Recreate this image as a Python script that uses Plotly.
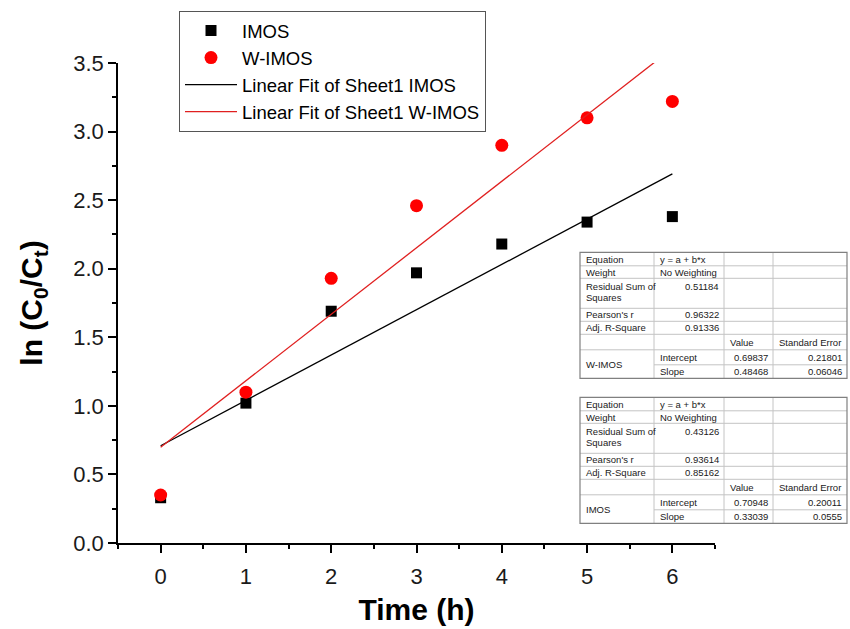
import plotly.graph_objects as go

# Reaction time (h) and kinetic data ln(C0/Ct)
time_h = [0, 1, 2, 3, 4, 5, 6]
imos = [0.33, 1.02, 1.69, 1.97, 2.18, 2.34, 2.38]
w_imos = [0.35, 1.10, 1.93, 2.46, 2.90, 3.10, 3.22]

# Linear fit statistics (y = a + b*x)
wimos_stats = ["0.51184", "0.96322", "0.91336"]
wimos_intercept = ["0.69837", "0.21801"]
wimos_slope = ["0.48468", "0.06046"]

imos_stats = ["0.43126", "0.93614", "0.85162"]
imos_intercept = ["0.70948", "0.20011"]
imos_slope = ["0.33039", "0.0555"]

y_ticks = [0.0, 0.5, 1.0, 1.5, 2.0, 2.5, 3.0, 3.5]

FONT = "Liberation Sans, Arial, sans-serif"
W, H = 850, 629
PL, PR, PT, PB = 118, 715, 63, 543


def fx(px):
    return (px - PL) / (PR - PL)


def fy(py):
    return (PB - py) / (PB - PT)


def fit_line(a, b):
    return [float(a) + float(b) * t for t in time_h]


fig = go.Figure()
fig.add_trace(go.Scatter(x=time_h, y=imos, mode="markers", name="IMOS",
                         marker=dict(symbol="square", size=11, color="black")))
fig.add_trace(go.Scatter(x=time_h, y=w_imos, mode="markers", name="W-IMOS",
                         marker=dict(symbol="circle", size=13, color="#ff0000")))
fig.add_trace(go.Scatter(x=time_h, y=fit_line(imos_intercept[0], imos_slope[0]),
                         mode="lines", name="Linear Fit of Sheet1 IMOS",
                         line=dict(color="black", width=1.3)))
fig.add_trace(go.Scatter(x=time_h, y=fit_line(wimos_intercept[0], wimos_slope[0]),
                         mode="lines", name="Linear Fit of Sheet1 W-IMOS",
                         line=dict(color="#e02020", width=1.3)))

shapes = []
annotations = []

COLS = [580, 654, 724, 773, 847]
ROWS = [0, 13.5, 26, 56, 69, 82, 97.5, 112.5, 126]
TXT = dict(size=9.5, color="#1a1a1a", family=FONT)


def line(x0, y0, x1, y1, color, width):
    shapes.append(dict(type="line", xref="paper", yref="paper",
                       x0=fx(x0), y0=fy(y0), x1=fx(x1), y1=fy(y1),
                       line=dict(color=color, width=width)))


def text(s, px, py, anchor):
    annotations.append(dict(text=s, x=fx(px), y=fy(py), xref="paper", yref="paper",
                            xanchor=anchor, yanchor="middle", showarrow=False,
                            font=TXT))


def stats_table(top, label, stats, intercept, slope):
    grid = "#c4c4c4"
    # horizontal grid
    for r in ROWS[1:7]:
        line(COLS[0], top + r, COLS[-1], top + r, grid, 1)
    line(COLS[1], top + ROWS[7], COLS[-1], top + ROWS[7], grid, 1)
    # vertical grid
    for c in COLS[1:4]:
        line(c, top, c, top + ROWS[-1], grid, 1)
    # outer border
    shapes.append(dict(type="rect", xref="paper", yref="paper",
                       x0=fx(COLS[0]), x1=fx(COLS[-1]), y0=fy(top), y1=fy(top + ROWS[-1]),
                       line=dict(color="#808080", width=1.2)))
    lx, vx = COLS[0] + 4, COLS[1] + 4
    rx = COLS[2] - 3
    text("Equation", lx, top + 6.8, "left")
    text("y = a + b*x", vx, top + 6.8, "left")
    text("Weight", lx, top + 19.8, "left")
    text("No Weighting", vx, top + 19.8, "left")
    text("Residual Sum of", lx, top + 34.4, "left")
    text("Squares", lx, top + 45.6, "left")
    text(stats[0], rx, top + 34.4, "right")
    text("Pearson's r", lx, top + 62.5, "left")
    text(stats[1], rx, top + 62.5, "right")
    text("Adj. R-Square", lx, top + 75.5, "left")
    text(stats[2], rx, top + 75.5, "right")
    text("Value", COLS[2] + 4, top + 89.8, "left")
    text("Standard Error", COLS[3] + 4, top + 89.8, "left")
    text(label, lx, top + 112, "left")
    for name, vals, yc in (("Intercept", intercept, 105), ("Slope", slope, 119.3)):
        text(name, vx, top + yc, "left")
        text(vals[0], COLS[3] - 3, top + yc, "right")
        text(vals[1], COLS[4] - 3, top + yc, "right")


stats_table(252.3, "W-IMOS", wimos_stats, wimos_intercept, wimos_slope)
stats_table(397.3, "IMOS", imos_stats, imos_intercept, imos_slope)

axis_common = dict(showline=True, linecolor="black", linewidth=1.5, mirror=False,
                   showgrid=False, zeroline=False, ticks="outside", ticklen=8,
                   tickwidth=1.5, tickcolor="black", automargin=False,
                   tickfont=dict(size=22, family=FONT, color="#1a1a1a"))

fig.update_layout(
    width=W, height=H,
    margin=dict(l=PL, r=W - PR, t=PT, b=H - PB, autoexpand=False),
    paper_bgcolor="white", plot_bgcolor="white",
    showlegend=True,
    legend=dict(x=fx(179), y=fy(11), xanchor="left", yanchor="top",
                bgcolor="white", bordercolor="#555555", borderwidth=1,
                font=dict(size=18.5, family=FONT, color="black"),
                itemwidth=52, tracegroupgap=0),
    xaxis=dict(range=[-0.5, 6.5], tick0=0, dtick=1, ticklabelstandoff=5,
               minor=dict(ticks="outside", ticklen=4, tickwidth=1.5,
                          tickcolor="black", dtick=0.5, tick0=0),
               title=dict(text="<b>Time (h)</b>", standoff=11,
                          font=dict(size=30, family=FONT, color="black")),
               **axis_common),
    yaxis=dict(range=[0, 3.5], tickvals=y_ticks,
               ticktext=[f"{v:.1f}" for v in y_ticks],
               minor=dict(ticks="outside", ticklen=4, tickwidth=1.5,
                          tickcolor="black", dtick=0.25, tick0=0),
               title=dict(text="<b>ln (C<sub>0</sub>/C<sub>t</sub>)</b>", standoff=22,
                          font=dict(size=30, family=FONT, color="black")),
               **axis_common),
    shapes=shapes,
    annotations=annotations,
)

fig.write_html("out.html")
